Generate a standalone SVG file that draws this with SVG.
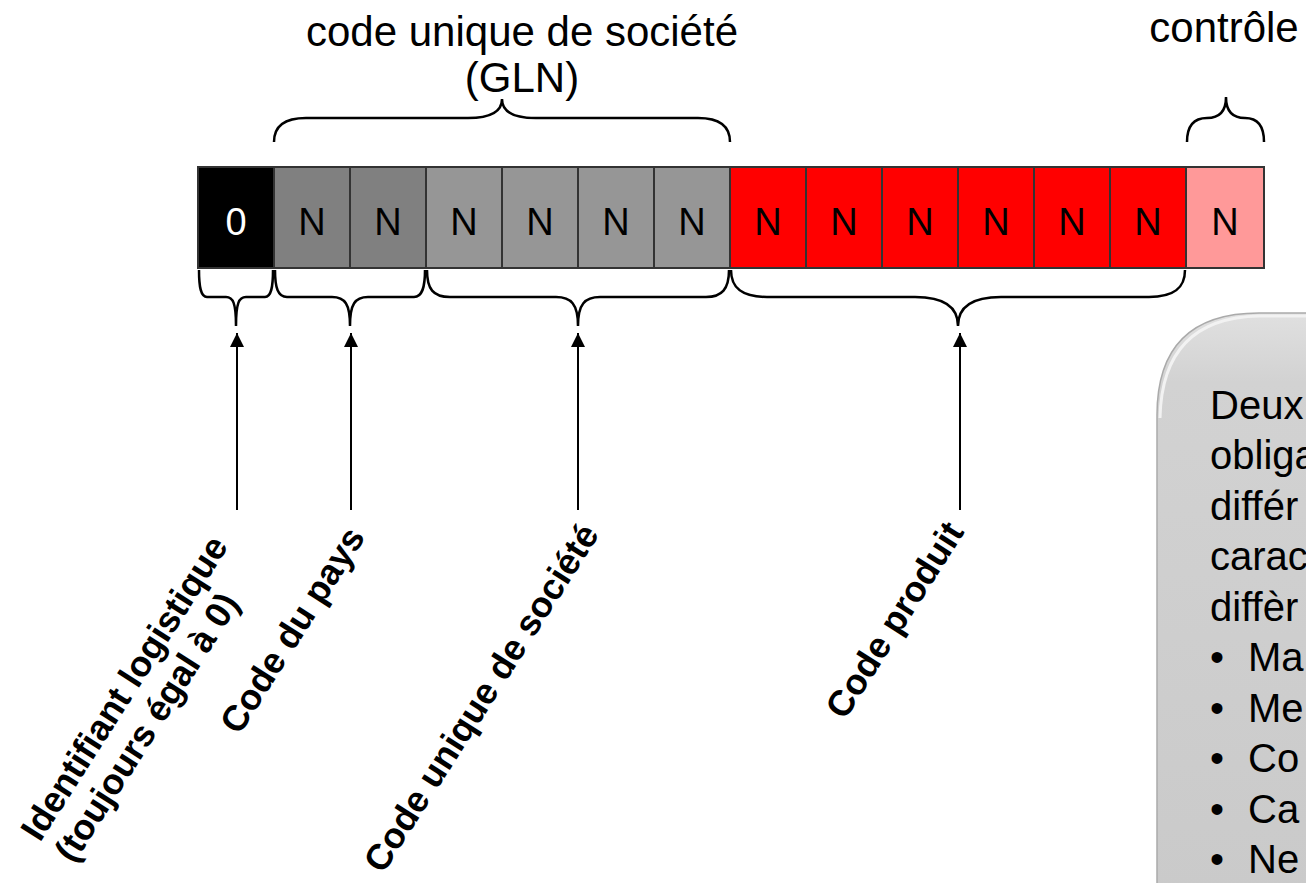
<svg xmlns="http://www.w3.org/2000/svg" width="1306" height="883" viewBox="0 0 1306 883">
<defs>
<style>
.cell{stroke:#333;stroke-width:2}
.ct{font-family:"Liberation Sans",Arial,sans-serif;font-size:38px;text-anchor:middle}
.brace{fill:none;stroke:#000;stroke-width:2.5}
.conn{stroke:#000;stroke-width:2;fill:none}
.top{font-family:"Liberation Sans",Arial,sans-serif;font-size:42px;text-anchor:middle}
.lbl{font-family:"Liberation Sans",Arial,sans-serif;font-size:36px;font-weight:bold}
.call{font-family:"Liberation Sans",Arial,sans-serif;font-size:40px}
</style>
<marker id="ah" markerWidth="14" markerHeight="14" refX="14" refY="7" orient="auto" markerUnits="userSpaceOnUse">
<path d="M0,0 L14,7 L0,14 Z" fill="#000"/>
</marker>
<linearGradient id="cg" x1="0" y1="0" x2="0" y2="1">
<stop offset="0" stop-color="#e0e0e0"/>
<stop offset="0.12" stop-color="#d2d2d2"/>
<stop offset="1" stop-color="#cacaca"/>
</linearGradient>
</defs>
<rect width="1306" height="883" fill="#fff"/>

<g id="top-labels">
<text class="top" x="522" y="46">code unique de société</text>
<text class="top" x="522" y="92">(GLN)</text>
<text class="top" x="1224" y="42">contrôle</text>
</g>

<g id="cells">
<rect class="cell" x="198" y="167" width="76" height="101" fill="#000"/>
<rect class="cell" x="274" y="167" width="76" height="101" fill="#808080"/>
<rect class="cell" x="350" y="167" width="76" height="101" fill="#808080"/>
<rect class="cell" x="426" y="167" width="76" height="101" fill="#969696"/>
<rect class="cell" x="502" y="167" width="76" height="101" fill="#969696"/>
<rect class="cell" x="578" y="167" width="76" height="101" fill="#969696"/>
<rect class="cell" x="654" y="167" width="76" height="101" fill="#969696"/>
<rect class="cell" x="730" y="167" width="76" height="101" fill="#ff0000"/>
<rect class="cell" x="806" y="167" width="76" height="101" fill="#ff0000"/>
<rect class="cell" x="882" y="167" width="76" height="101" fill="#ff0000"/>
<rect class="cell" x="958" y="167" width="76" height="101" fill="#ff0000"/>
<rect class="cell" x="1034" y="167" width="76" height="101" fill="#ff0000"/>
<rect class="cell" x="1110" y="167" width="76" height="101" fill="#ff0000"/>
<rect class="cell" x="1186" y="167" width="78" height="101" fill="#ff9999"/>
<text class="ct" x="236" y="235" fill="#fff">0</text>
<text class="ct" x="312" y="235">N</text>
<text class="ct" x="388" y="235">N</text>
<text class="ct" x="464" y="235">N</text>
<text class="ct" x="540" y="235">N</text>
<text class="ct" x="616" y="235">N</text>
<text class="ct" x="692" y="235">N</text>
<text class="ct" x="768" y="235">N</text>
<text class="ct" x="844" y="235">N</text>
<text class="ct" x="920" y="235">N</text>
<text class="ct" x="996" y="235">N</text>
<text class="ct" x="1072" y="235">N</text>
<text class="ct" x="1148" y="235">N</text>
<text class="ct" x="1225" y="235">N</text>
</g>

<g id="braces">
<path class="brace" d="M274,142 C274,126 284,118 306,118 H468 C490,118 502,112 502,99 C502,112 514,118 536,118 H698 C720,118 730,126 730,142"/>
<path class="brace" d="M1187,142 C1187,126 1194,118 1207,118 C1219,118 1226,112 1226,97 C1226,112 1233,118 1245,118 C1258,118 1264,126 1264,142"/>
<path class="brace" d="M199,270 C199,288 201,297 207,297 H226 C233,297 236,303 236,326 C236,303 239,297 246,297 H265 C271,297 273,288 273,270"/>
<path class="brace" d="M275,270 C275,288 278,297 287,297 H332 C345,297 350,304 350,326 C350,304 355,297 368,297 H414 C422,297 425,288 425,270"/>
<path class="brace" d="M427,270 C427,289 433,297 450,297 H556 C571,297 578,304 578,326 C578,304 585,297 600,297 H706 C722,297 729,289 729,270"/>
<path class="brace" d="M731,270 C731,289 743,297 767,297 H915 C942,297 958,305 958,326 C958,305 974,297 1001,297 H1149 C1173,297 1185,289 1185,270"/>
</g>

<g id="connectors">
<line class="conn" x1="237" y1="510" x2="237" y2="333" marker-end="url(#ah)"/>
<line class="conn" x1="351" y1="510" x2="351" y2="333" marker-end="url(#ah)"/>
<line class="conn" x1="578" y1="510" x2="578" y2="333" marker-end="url(#ah)"/>
<line class="conn" x1="960" y1="510" x2="960" y2="333" marker-end="url(#ah)"/>
</g>

<g id="label-identifiant" transform="translate(40,843) rotate(-57.5)">
<text class="lbl" x="0" y="0">Identifiant logistique</text>
<text class="lbl" x="0" y="40">(toujours égal à 0)</text>
</g>
<g id="label-pays" transform="translate(366,537) rotate(-57.5)">
<text class="lbl" text-anchor="end" x="0" y="0">Code du pays</text>
</g>
<g id="label-societe" transform="translate(600,534) rotate(-57.5)">
<text class="lbl" text-anchor="end" x="0" y="0">Code unique de société</text>
</g>
<g id="label-produit" transform="translate(965,532) rotate(-57.5)">
<text class="lbl" text-anchor="end" x="0" y="0">Code produit</text>
</g>

<g id="callout">
<path d="M1157,890 V415 Q1157,313 1259,313 H1310 V890 Z" fill="url(#cg)" stroke="#aaaaaa" stroke-width="1.5"/>
<path d="M1160,418 Q1162,318 1259,316 H1306" fill="none" stroke="#f2f2f2" stroke-width="3"/>
<text class="call" x="1210" y="419">Deux</text>
<text class="call" x="1210" y="469">obliga</text>
<text class="call" x="1210" y="520">différ</text>
<text class="call" x="1210" y="570">carac</text>
<text class="call" x="1210" y="621">diffèr</text>
<text class="call" x="1210" y="671">•</text><text class="call" x="1248" y="671">Ma</text>
<text class="call" x="1210" y="722">•</text><text class="call" x="1248" y="722">Me</text>
<text class="call" x="1210" y="772">•</text><text class="call" x="1248" y="772">Co</text>
<text class="call" x="1210" y="823">•</text><text class="call" x="1248" y="823">Ca</text>
<text class="call" x="1210" y="873">•</text><text class="call" x="1248" y="873">Ne</text>
</g>
</svg>
